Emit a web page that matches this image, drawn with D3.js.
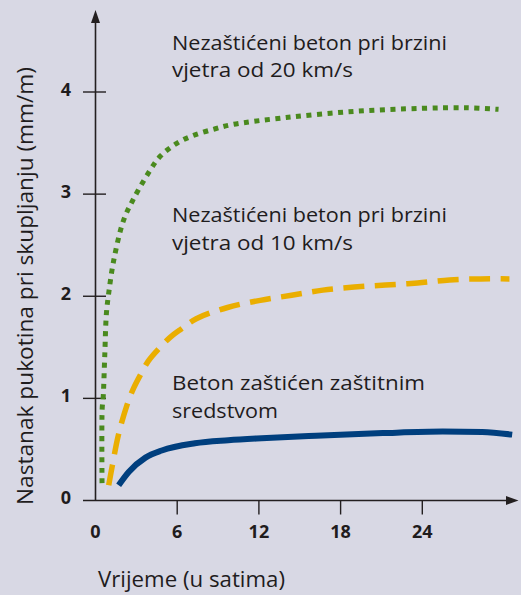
<!DOCTYPE html>
<html>
<head>
<meta charset="utf-8">
<script src="https://cdn.jsdelivr.net/npm/d3@7"></script>
<style>
html,body{margin:0;padding:0;background:#d8d8e4;}
svg{display:block;}
text{font-family:"Open Sans",sans-serif;fill:#1f1c1d;}
</style>
</head>
<body>
<script>
// ---- data ----
const xTicks = [0, 6, 12, 18, 24];
const yTicks = [0, 1, 2, 3, 4];
const xTitle = "Vrijeme (u satima)";
const yTitle = "Nastanak pukotina pri skupljanju (mm/m)";

// hours
const wind20X = [0.48,0.49,0.56,0.68,0.8,0.97,1.35,2.05,2.7,3.9,4.75,6,7.3,8.8,10,14,19,24,27.3,29.6];
// mm/m
const wind20Y = [0.17,0.9,1.0,1.42,1.83,2.03,2.36,2.74,2.93,3.21,3.37,3.5,3.58,3.64,3.68,3.75,3.81,3.84,3.845,3.83];

const wind10X = [0.97,1.22,1.68,2.3,2.8,3.3,3.9,4.6,5.5,6.3,7.4,9.7,12.1,14.4,16.7,19,21.3,23.65,26,28.3,30.4];
const wind10Y = [0.15,0.33,0.64,0.93,1.1,1.23,1.37,1.48,1.6,1.68,1.78,1.89,1.96,2.01,2.06,2.09,2.11,2.13,2.16,2.17,2.17];

const protX = [1.7,2.44,3.67,4.87,7.3,9.75,12.2,16.2,21.1,25.5,28.4,30.6];
const protY = [0.15,0.28,0.42,0.49,0.56,0.59,0.61,0.635,0.66,0.675,0.67,0.645];

const labels = [
  ["Nezaštićeni beton pri brzini", "vjetra od 20 km/s"],
  ["Nezaštićeni beton pri brzini", "vjetra od 10 km/s"],
  ["Beton zaštićen zaštitnim", "sredstvom"]
];

// ---- drawing ----
const W = 521, H = 595;
const svg = d3.select("body").append("svg").attr("width", W).attr("height", H);
svg.append("rect").attr("width", W).attr("height", H).attr("fill", "#d8d8e4");

const x = d3.scaleLinear().domain([0, 30]).range([95.5, 504]);
const y = d3.scaleLinear().domain([0, 4]).range([500.5, 92]);

const axisColor = "#231f20";
// y axis line + arrow
svg.append("line").attr("x1", x(0)).attr("x2", x(0)).attr("y1", y(0)).attr("y2", 20)
  .attr("stroke", axisColor).attr("stroke-width", 1.6);
svg.append("path").attr("d", `M${x(0)},10 L${x(0)-4.5},23 L${x(0)+4.5},23 Z`).attr("fill", axisColor);
// x axis line + arrow
svg.append("line").attr("x1", 83).attr("x2", 508).attr("y1", y(0)).attr("y2", y(0))
  .attr("stroke", axisColor).attr("stroke-width", 1.6);
svg.append("path").attr("d", `M518.5,${y(0)} L506,${y(0)-4.5} L506,${y(0)+4.5} Z`).attr("fill", axisColor);

// y ticks
const gy = svg.append("g");
gy.selectAll("line").data(yTicks.filter(d => d > 0)).join("line")
  .attr("x1", 83).attr("x2", 106).attr("y1", d => y(d)).attr("y2", d => y(d))
  .attr("stroke", axisColor).attr("stroke-width", 1.4);
gy.selectAll("text").data(yTicks).join("text")
  .attr("x", 71).attr("y", d => y(d) + 3.5)
  .attr("text-anchor", "end").attr("font-weight", "bold").attr("font-size", 18)
  .text(d => d);

// x ticks
const gx = svg.append("g");
gx.selectAll("line").data(xTicks.filter(d => d > 0)).join("line")
  .attr("x1", d => x(d)).attr("x2", d => x(d)).attr("y1", y(0)).attr("y2", y(0) + 14)
  .attr("stroke", axisColor).attr("stroke-width", 1.4);
gx.selectAll("text").data(xTicks).join("text")
  .attr("x", d => x(d)).attr("y", 537.5)
  .attr("text-anchor", "middle").attr("font-weight", "bold").attr("font-size", 18)
  .text(d => d);

// titles
svg.append("text").attr("x", 98).attr("y", 587).attr("font-size", 21.5).attr("font-weight", 500)
  .attr("textLength", 187).attr("lengthAdjust", "spacingAndGlyphs").text(xTitle);
svg.append("text").attr("transform", "translate(33,286) rotate(-90)")
  .attr("text-anchor", "middle").attr("font-size", 21.5).attr("font-weight", 500)
  .attr("textLength", 438).attr("lengthAdjust", "spacingAndGlyphs").text(yTitle);

// curves
const lineC = d3.line().x(d => x(d[0])).y(d => y(d[1])).curve(d3.curveCatmullRom.alpha(0.5));
const lineM = d3.line().x(d => x(d[0])).y(d => y(d[1])).curve(d3.curveMonotoneX);
const zip = (a, b) => a.map((v, i) => [v, b[i]]);

svg.append("path").attr("d", lineM(zip(protX, protY)))
  .attr("fill", "none").attr("stroke", "#003f7e").attr("stroke-width", 6);
svg.append("path").attr("d", lineC(zip(wind10X, wind10Y)))
  .attr("fill", "none").attr("stroke", "#eaae00").attr("stroke-width", 5.5)
  .attr("stroke-dasharray", "21 10.5");
svg.append("path").attr("d", lineC(zip(wind20X, wind20Y)))
  .attr("fill", "none").attr("stroke", "#4a8a1e").attr("stroke-width", 5)
  .attr("stroke-dasharray", "5 5.5");

// annotations
const labelPos = [[49.5, 77], [221.5, 249.5], [390, 418]];
const labelWidths = [[275, 181], [275, 181], [253, 106]];
labels.forEach((lines, i) => {
  lines.forEach((t, j) => {
    svg.append("text").attr("x", 172).attr("y", labelPos[i][j]).attr("font-size", 19.5).attr("font-weight", 500)
      .attr("textLength", labelWidths[i][j]).attr("lengthAdjust", "spacingAndGlyphs").text(t);
  });
});
</script>
</body>
</html>
